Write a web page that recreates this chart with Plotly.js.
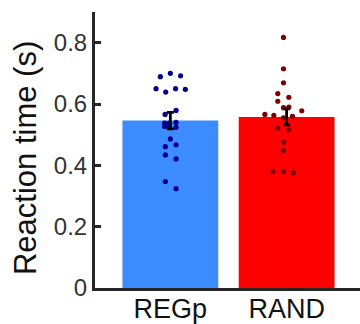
<!DOCTYPE html>
<html>
<head>
<meta charset="utf-8">
<script src="https://cdn.plot.ly/plotly-3.0.1.min.js"></script>
<style>html,body{margin:0;padding:0;background:#fff;}#chart{width:360px;height:324px;}</style>
</head>
<body>
<div id="chart"></div>
<script>
// Categories and summary values
var categories = ["REGp", "RAND"];
var barMeans = [0.546, 0.558];
var barSEM = [0.027, 0.026];
var barColors = ["#3c8cff", "#ff0000"];
var dotColors = ["#00008b", "#7f0000"];
var yTitle = "Reaction time (s)";

// Individual data points (seconds) and their horizontal jitter (category units)
var regpValues = [0.689, 0.700, 0.692, 0.650, 0.639, 0.650, 0.648, 0.566, 0.579, 0.538, 0.538,
                  0.540, 0.527, 0.527, 0.524, 0.486, 0.461, 0.467, 0.434, 0.421, 0.347, 0.324];
var regpJitter = [-0.086, 0.0, 0.088, -0.123, -0.040, 0.045, 0.129, -0.045, 0.049, -0.049, -0.009,
                  0.049, -0.049, -0.009, 0.049, 0.0, -0.043, 0.049, -0.043, 0.049, -0.043, 0.049];
var randValues = [0.817, 0.715, 0.669, 0.634, 0.609, 0.622, 0.588, 0.590, 0.566, 0.563,
                  0.555, 0.560, 0.578, 0.522, 0.516, 0.476, 0.449, 0.380, 0.380, 0.376];
var randJitter = [-0.027, -0.027, -0.027, -0.076, -0.076, 0.019, -0.027, 0.019, -0.187, -0.110,
                  -0.027, 0.050, 0.130, -0.076, 0.019, -0.027, -0.027, -0.118, -0.027, 0.058];

var yTickVals = [0, 0.2, 0.4, 0.6, 0.8];
var yTickText = ["0", "0.2", "0.4", "0.6", "0.8"];

var catIdx = categories.map(function (c, i) { return i; });
var FONT = "Liberation Sans, Arial, sans-serif";

var traces = [];
traces.push({
  type: "bar",
  x: catIdx,
  y: barMeans,
  width: 0.824,
  marker: { color: barColors, line: { width: 0 } },
  hoverinfo: "skip"
});
var groups = [[regpValues, regpJitter], [randValues, randJitter]];
groups.forEach(function (g, i) {
  traces.push({
    type: "scatter",
    mode: "markers",
    x: g[1].map(function (j) { return i + j; }),
    y: g[0],
    marker: { color: dotColors[i], size: 5.2, line: { width: 0 } },
    hoverinfo: "skip"
  });
});
traces.push({
  type: "scatter",
  mode: "markers",
  x: catIdx,
  y: barMeans,
  marker: { size: 0.1, color: "rgba(0,0,0,0)" },
  error_y: { type: "data", array: barSEM, visible: true, color: "#000", thickness: 2.8, width: 3.5 },
  hoverinfo: "skip"
});

var layout = {
  width: 360,
  height: 324,
  margin: { l: 95, r: 0, t: 12, b: 36, pad: 0 },
  paper_bgcolor: "#fff",
  plot_bgcolor: "#fff",
  showlegend: false,
  font: { family: FONT },
  xaxis: {
    range: [-0.648, 1.631],
    tickvals: catIdx,
    ticktext: categories,
    showline: true,
    linewidth: 3,
    linecolor: "#262626",
    ticks: "",
    showgrid: false,
    zeroline: false,
    ticklabelstandoff: -5,
    tickfont: { size: 27, color: "#111", family: FONT },
    fixedrange: true
  },
  yaxis: {
    range: [0, 0.9],
    tickvals: yTickVals,
    ticktext: yTickText,
    showline: true,
    linewidth: 3,
    linecolor: "#262626",
    ticks: "inside",
    ticklen: 6,
    tickwidth: 3,
    tickcolor: "#262626",
    showgrid: false,
    zeroline: false,
    tickfont: { size: 24, color: "#333", family: FONT },
    fixedrange: true
  },
  annotations: [{
    text: yTitle,
    xref: "paper", yref: "paper",
    x: -0.264, y: 0.471,
    xanchor: "center", yanchor: "middle",
    textangle: -90,
    showarrow: false,
    font: { size: 31, color: "#111", family: FONT }
  }]
};

Plotly.newPlot("chart", traces, layout, { displayModeBar: false, staticPlot: true });
</script>
</body>
</html>
